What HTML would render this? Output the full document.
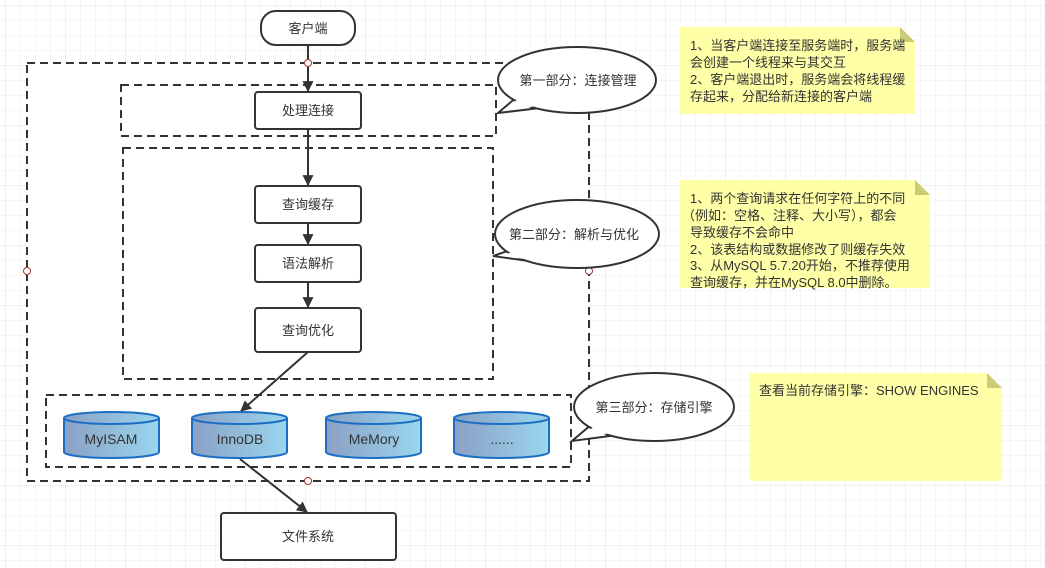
<!DOCTYPE html>
<html><head><meta charset="utf-8"><style>
body{margin:0;width:1045px;height:568px;overflow:hidden;background:#fff}
svg{display:block}
text{font-family:"Liberation Sans","Noto Sans CJK SC",sans-serif;fill:#333}
</style></head><body>
<svg width="1045" height="568" viewBox="0 0 1045 568" xmlns="http://www.w3.org/2000/svg">
<defs>
<pattern id="g" width="15" height="15" patternUnits="userSpaceOnUse" x="6" y="6">
<path d="M15 0V15M0 15H15" stroke="#ececec" stroke-width="1" fill="none"/></pattern>
<pattern id="G" width="60" height="60" patternUnits="userSpaceOnUse" x="6" y="6">
<path d="M60 0V60M0 60H60" stroke="#e0e0e0" stroke-width="1" fill="none"/></pattern>
<linearGradient id="cy" x1="0" x2="1"><stop offset="0" stop-color="#8aa0c4"/><stop offset="1" stop-color="#9bd6ee"/></linearGradient>
<marker id="a" viewBox="0 0 10 10" refX="9" refY="5" markerWidth="11" markerHeight="11" markerUnits="userSpaceOnUse" orient="auto"><path d="M0 0L10 5L0 10z" fill="#333"/></marker>
</defs>
<rect width="1045" height="568" fill="url(#g)"/>
<rect width="1045" height="568" fill="url(#G)"/>
<g fill="#fff" stroke="#333" stroke-width="2" stroke-dasharray="8 5">
<rect x="27" y="63" width="562" height="418"/>
<rect x="121" y="85" width="375" height="51"/>
<rect x="123" y="148" width="370" height="231"/>
<rect x="46" y="395" width="525" height="72"/>
</g>
<g stroke="#333" stroke-width="2" fill="none">
<line x1="308" y1="45" x2="308" y2="91" marker-end="url(#a)"/>
<line x1="308" y1="129" x2="308" y2="185" marker-end="url(#a)"/>
<line x1="308" y1="223" x2="308" y2="244" marker-end="url(#a)"/>
<line x1="308" y1="282" x2="308" y2="307" marker-end="url(#a)"/>
<line x1="308" y1="352" x2="241" y2="411" marker-end="url(#a)"/>
<line x1="240" y1="459" x2="307" y2="512" marker-end="url(#a)"/>
</g>
<g fill="#fff" stroke="#333" stroke-width="2">
<rect x="261" y="11" width="94" height="34" rx="15"/>
<rect x="255" y="92" width="106" height="37" rx="3"/>
<rect x="255" y="186" width="106" height="37" rx="3"/>
<rect x="255" y="245" width="106" height="37" rx="3"/>
<rect x="255" y="308" width="106" height="44" rx="3"/>
<rect x="221" y="513" width="175" height="47" rx="3"/>
</g>
<g font-size="13" text-anchor="middle">
<text x="308" y="33">客户端</text>
<text x="308" y="115">处理连接</text>
<text x="308" y="209">查询缓存</text>
<text x="308" y="268">语法解析</text>
<text x="308" y="335">查询优化</text>
<text x="308" y="541">文件系统</text>
</g>
<g stroke="#1a6fc4" stroke-width="2" fill="url(#cy)">
<path d="M64 418V452A47.5 6 0 0 0 159 452V418"/><ellipse cx="111.5" cy="418" rx="47.5" ry="6"/>
<path d="M192 418V452A47.5 6 0 0 0 287 452V418"/><ellipse cx="239.5" cy="418" rx="47.5" ry="6"/>
<path d="M326 418V452A47.5 6 0 0 0 421 452V418"/><ellipse cx="373.5" cy="418" rx="47.5" ry="6"/>
<path d="M454 418V452A47.5 6 0 0 0 549 452V418"/><ellipse cx="501.5" cy="418" rx="47.5" ry="6"/>
</g>
<g font-size="14" text-anchor="middle" fill="#333">
<text x="111" y="444">MyISAM</text>
<text x="240" y="444">InnoDB</text>
<text x="374" y="444">MeMory</text>
<text x="502" y="444">......</text>
</g>
<g fill="#fff" stroke="#a33" stroke-width="1">
<circle cx="308" cy="63" r="3.5"/><circle cx="27" cy="271" r="3.5"/><circle cx="589" cy="271" r="3.5"/><circle cx="308" cy="481" r="3.5"/>
</g>
<!-- callouts -->
<g fill="#fff" stroke="#333" stroke-width="2">
<path d="M518 96 L498 113 L540 108 Z"/>
<ellipse cx="577" cy="80" rx="79" ry="33"/>
<path d="M516 248 L493 256 L536 262 Z"/>
<ellipse cx="577" cy="234" rx="82" ry="34"/>
<path d="M592 424 L572 441 L610 436 Z"/>
<ellipse cx="654" cy="407" rx="80" ry="34"/>
</g>
<g fill="#fff">
<path d="M521 97 L503 110 L538 106 Z"/>
<path d="M519 250 L500 256 L533 260 Z"/>
<path d="M595 426 L578 438 L607 434 Z"/>
</g>
<g font-size="13" text-anchor="middle">
<text x="578" y="85">第一部分：连接管理</text>
<text x="574" y="239">第二部分：解析与优化</text>
<text x="654" y="412">第三部分：存储引擎</text>
</g>
<g fill="#ffffa8">
<path d="M680 27H900L915 42V114H680Z"/>
<path d="M680 180H915L930 195V288H680Z"/>
<path d="M750 373H987L1002 388V481H750Z"/>
</g>
<g fill="#cccc77">
<path d="M900 27L915 42H900Z"/><path d="M915 180L930 195H915Z"/><path d="M987 373L1002 388H987Z"/>
</g>
<g font-size="13">
<text x="690" y="50">1、当客户端连接至服务端时，服务端</text>
<text x="690" y="67">会创建一个线程来与其交互</text>
<text x="690" y="84">2、客户端退出时，服务端会将线程缓</text>
<text x="690" y="101">存起来，分配给新连接的客户端</text>
<text x="690" y="203">1、两个查询请求在任何字符上的不同</text>
<text x="682" y="220">（例如：空格、注释、大小写），都会</text>
<text x="690" y="237">导致缓存不会命中</text>
<text x="690" y="254">2、该表结构或数据修改了则缓存失效</text>
<text x="690" y="270">3、从MySQL 5.7.20开始，不推荐使用</text>
<text x="690" y="287">查询缓存，并在MySQL 8.0中删除。</text>
<text x="759" y="395">查看当前存储引擎：SHOW ENGINES</text>
</g>
</svg>
</body></html>
